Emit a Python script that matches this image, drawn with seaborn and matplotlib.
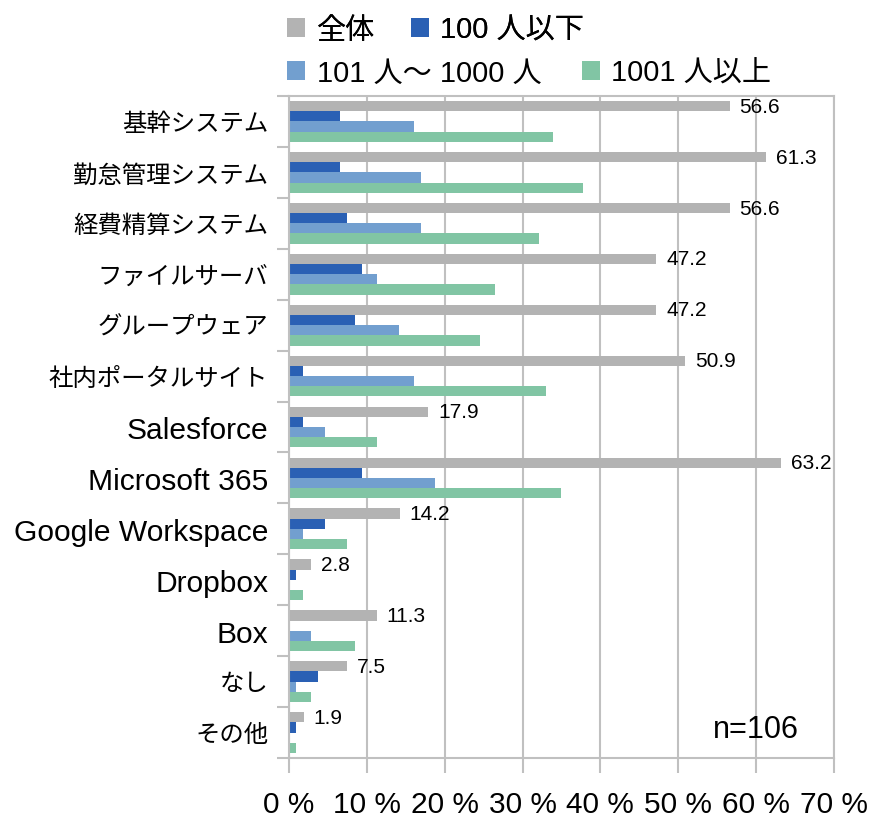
import numpy as np
import pandas as pd
import seaborn as sns
import matplotlib.pyplot as plt
from matplotlib.patches import Patch

# ---------------- data ----------------
categories = ['基幹システム', '勤怠管理システム', '経費精算システム', 'ファイルサーバ',
              'グループウェア', '社内ポータルサイト', 'Salesforce', 'Microsoft 365',
              'Google Workspace', 'Dropbox', 'Box', 'なし', 'その他']
series = ['全体', '100 人以下', '101 人～ 1000 人', '1001 人以上']

total = [56.6, 61.3, 56.6, 47.2, 47.2, 50.9, 17.9, 63.2, 14.2, 2.8, 11.3, 7.5, 1.9]
small = [6.6, 6.6, 7.5, 9.4, 8.5, 1.8, 1.8, 9.4, 4.6, 0.9, 0.0, 3.7, 0.9]
mid = [16.0, 17.0, 17.0, 11.3, 14.1, 16.0, 4.6, 18.8, 1.8, 0.0, 2.8, 0.9, 0.0]
large = [33.9, 37.7, 32.1, 26.4, 24.5, 33.0, 11.3, 34.9, 7.5, 1.8, 8.5, 2.8, 0.9]

xticks = [0, 10, 20, 30, 40, 50, 60, 70]
xticklabels = ['0 %', '10 %', '20 %', '30 %', '40 %', '50 %', '60 %', '70 %']

colors = ['#b3b3b3', '#2a60b4', '#729fcf', '#81c5a4']
grid_c = '#c0c0c0'

df = pd.DataFrame({
    'category': categories * 4,
    'series': np.repeat(series, len(categories)),
    'value': total + small + mid + large,
})

sns.set_style('white')
plt.rcParams['font.family'] = ['Liberation Sans', 'Noto Sans CJK JP', 'DejaVu Sans']
plt.rcParams['text.color'] = 'black'
plt.rcParams['xtick.labelcolor'] = 'black'
plt.rcParams['ytick.labelcolor'] = 'black'

fig = plt.figure(figsize=(8.79, 8.29), dpi=100)
ax = fig.add_axes([0.3288, 0.0844, 0.6200, 0.7986])

sns.barplot(data=df, x='value', y='category', hue='series', order=categories,
            hue_order=series, palette=colors, orient='h', width=0.8,
            linewidth=0, saturation=1, legend=False, ax=ax)

ax.set_xlim(0, 70)
ax.set_ylim(len(categories) - 0.5, -0.5)
ax.set_xlabel('')
ax.set_ylabel('')

# grid and frame
ax.set_axisbelow(True)
ax.set_xticks(xticks)
ax.set_xticklabels(xticklabels, fontsize=21.5)
ax.xaxis.grid(True, color=grid_c, linewidth=1.5)
for s in ax.spines.values():
    s.set_color(grid_c)
    s.set_linewidth(1.5)
ax.tick_params(axis='x', which='major', bottom=True, length=11, width=1.5,
               color=grid_c, pad=12)

ax.set_yticks(np.arange(-0.5, len(categories), 1), minor=True)
ax.tick_params(axis='y', which='minor', left=True, length=9, width=1.5, color=grid_c)
ax.tick_params(axis='y', which='major', left=False, length=0, pad=15)
for lab in ax.get_yticklabels():
    txt = lab.get_text()
    if txt.isascii():
        lab.set_fontsize(21.6)
    else:
        lab.set_fontsize(17.6)

# value labels on the total series
ax.bar_label(ax.containers[0], fmt='%.1f', padding=7, fontsize=15)

ax.text(0.935, 0.044, 'n=106', transform=ax.transAxes, ha='right', va='center',
        fontsize=22, color='black')

# legend, two rows like the original
handles = [Patch(facecolor=c, edgecolor='none') for c in colors]
leg1 = fig.legend(handles[:2], series[:2], loc='center left',
                  bbox_to_anchor=(0.327, 0.963), ncol=2, frameon=False,
                  fontsize=21, handlelength=0.6, handleheight=0.6,
                  handletextpad=0.4, columnspacing=1.25,
                  borderpad=0, borderaxespad=0)
fig.add_artist(leg1)
leg2 = fig.legend(handles[2:], series[2:], loc='center left',
                  bbox_to_anchor=(0.327, 0.911), ncol=2, frameon=False,
                  fontsize=21, handlelength=0.6, handleheight=0.6,
                  handletextpad=0.4, columnspacing=1.4,
                  borderpad=0, borderaxespad=0)

fig.savefig('out.png', dpi=100)
